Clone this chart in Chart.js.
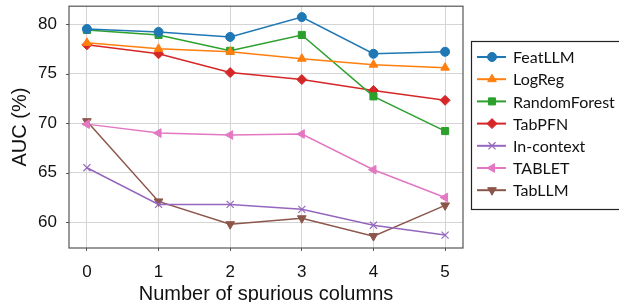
<!DOCTYPE html>
<html>
<head>
<meta charset="utf-8">
<script src="https://cdn.jsdelivr.net/npm/chart.js@4"></script>
<style>
  html, body { margin: 0; padding: 0; background: #fff; }
</style>
</head>
<body>
<canvas id="chart" width="619" height="302"></canvas>
<script>
// x positions: number of spurious columns
const columns = [0, 1, 2, 3, 4, 5];
const xTicks = [0, 1, 2, 3, 4, 5];
const yTicks = [60, 65, 70, 75, 80];

const featLLM      = [79.5, 79.2, 78.7, 80.7, 77.0, 77.2];
const logReg       = [78.1, 77.5, 77.2, 76.5, 75.9, 75.6];
const randomForest = [79.4, 78.9, 77.3, 78.9, 72.7, 69.2];
const tabPFN       = [77.9, 77.0, 75.1, 74.4, 73.3, 72.3];
const inContext    = [65.5, 61.8, 61.8, 61.3, 59.7, 58.7];
const tablet       = [69.9, 69.0, 68.8, 68.9, 65.3, 62.5];
const tabLLM       = [70.2, 62.1, 59.8, 60.4, 58.6, 61.7];

const seriesNames = ['FeatLLM', 'LogReg', 'RandomForest', 'TabPFN', 'In-context', 'TABLET', 'TabLLM'];
const seriesValues = [featLLM, logReg, randomForest, tabPFN, inContext, tablet, tabLLM];
const seriesColors = ['#1f77b4', '#ff7f0e', '#2ca02c', '#d62728', '#9467bd', '#e377c2', '#8c564b'];
const seriesMarkers = ['circle', 'triangle', 'rect', 'rectRot', 'crossRot', 'triangle', 'triangle'];
const seriesRotation = [0, 0, 0, 0, 0, -90, 180];
const seriesRadius = [4.5, 5, 5, 5, 5, 5, 5];

const datasets = seriesNames.map(function(name, i) {
    return {
        label: name,
        data: columns.map(function(c, j) { return { x: c, y: seriesValues[i][j] }; }),
        borderColor: seriesColors[i],
        backgroundColor: seriesColors[i],
        pointBackgroundColor: seriesColors[i],
        pointBorderColor: seriesColors[i],
        pointStyle: seriesMarkers[i],
        pointRotation: seriesRotation[i],
        pointRadius: seriesRadius[i],
        pointBorderWidth: seriesMarkers[i] === 'crossRot' ? 1.2 : 1,
        borderWidth: 1.5,
        tension: 0,
        fill: false
    };
});

// frame round the plot area, short y tick marks, boxed legend on the right
const framePlugin = {
    id: 'frame',
    afterDraw: function(chart) {
        const ctx = chart.ctx;
        const a = chart.chartArea;
        const yScale = chart.scales.y;
        ctx.save();
        ctx.strokeStyle = '#555';
        ctx.lineWidth = 1;
        yTicks.forEach(function(v) {
            const py = Math.round(yScale.getPixelForValue(v)) + 0.5;
            ctx.beginPath();
            ctx.moveTo(a.left - 3, py);
            ctx.lineTo(a.left, py);
            ctx.stroke();
        });
        ctx.lineWidth = 1.2;
        ctx.strokeRect(a.left, a.top, a.right - a.left, a.bottom - a.top);

        // legend
        ctx.strokeStyle = '#222';
        ctx.lineWidth = 1.2;
        ctx.strokeRect(471.5, 41.5, 150, 168);
        ctx.font = '16px Lato, "Noto Sans", sans-serif';
        ctx.textBaseline = 'middle';
        ctx.textAlign = 'left';
        chart.data.datasets.forEach(function(ds, i) {
            const y = 57 + i * 22.2;
            ctx.strokeStyle = ds.borderColor;
            ctx.lineWidth = 2;
            ctx.beginPath();
            ctx.moveTo(477, y);
            ctx.lineTo(506, y);
            ctx.stroke();
            ctx.fillStyle = ds.pointBackgroundColor;
            ctx.strokeStyle = ds.pointBorderColor;
            ctx.lineWidth = ds.pointBorderWidth;
            Chart.helpers.drawPoint(ctx, {
                pointStyle: ds.pointStyle,
                rotation: ds.pointRotation,
                radius: ds.pointRadius,
                borderWidth: ds.pointBorderWidth
            }, 492, y);
            ctx.fillStyle = '#111';
            ctx.fillText(ds.label, 513, y + 1);
        });
        ctx.restore();
    }
};

new Chart(document.getElementById('chart'), {
    type: 'line',
    data: { datasets: datasets },
    options: {
        responsive: false,
        animation: false,
        layout: { padding: { top: 5, right: 156, left: 0, bottom: 0 } },
        plugins: {
            legend: { display: false },
            tooltip: { enabled: false }
        },
        scales: {
            x: {
                type: 'linear',
                min: -0.25,
                max: 5.25,
                afterBuildTicks: function(axis) { axis.ticks = xTicks.map(function(v) { return { value: v }; }); },
                afterFit: function(axis) { axis.height = 54; },
                grid: { color: '#d4d4d4', lineWidth: 1, tickColor: '#555', tickLength: 3 },
                border: { display: false },
                ticks: { color: '#111', font: { family: 'Liberation Sans, Arial', size: 17, lineHeight: 1 }, padding: 13 },
                title: {
                    display: true,
                    text: 'Number of spurious columns',
                    color: '#111',
                    font: { family: 'Liberation Sans, Arial', size: 20 },
                    padding: { top: 0, bottom: -4 }
                }
            },
            y: {
                min: 57.4,
                max: 81.8,
                afterBuildTicks: function(axis) { axis.ticks = yTicks.map(function(v) { return { value: v }; }); },
                afterFit: function(axis) { axis.width = 69; },
                grid: { color: '#d4d4d4', lineWidth: 1, tickColor: 'rgba(0,0,0,0)', tickLength: 12 },
                border: { display: false },
                ticks: { color: '#111', font: { family: 'Liberation Sans, Arial', size: 17, lineHeight: 0.4 }, padding: 0 },
                title: {
                    display: true,
                    text: 'AUC (%)',
                    color: '#111',
                    font: { family: 'Liberation Sans, Arial', size: 20 },
                    padding: { top: 8, bottom: 0 }
                }
            }
        }
    },
    plugins: [framePlugin]
});
</script>
</body>
</html>
